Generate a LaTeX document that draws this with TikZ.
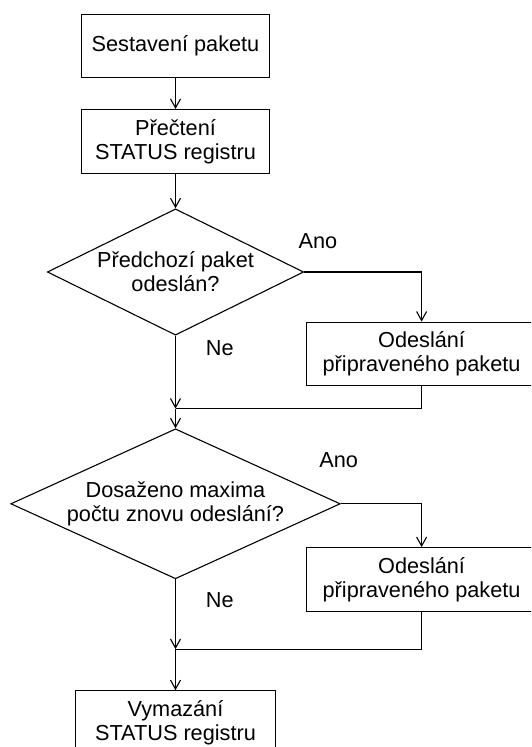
\documentclass[tikz,border=0pt]{standalone}
\usepackage{fontspec}
\setmainfont{Liberation Sans}
\usetikzlibrary{shapes.geometric,arrows.meta}

\begin{document}
\begin{tikzpicture}[
		x={(1pt,0pt)},
		y={(0pt,-1pt)},
		font=\fontsize{21.7}{24}\selectfont,
		line width=1.1pt,
		box/.style={draw,rectangle,align=center,inner sep=0pt,minimum width=188pt,minimum height=63.7pt},
		decision/.style={draw,diamond,align=center,inner sep=0pt},
		arr/.style={-{Straight Barb[length=9pt,width=10pt]}},
	]
		\useasboundingbox (0,0) rectangle (531,747);
		\clip (0,0) rectangle (531,747);
		
		\node[box] (sestaveni) at (175.5,46) {Sestavení paketu};
		\node[box] (cteni) at (175.5,141.4) {Přečtení\\STATUS registru};
		\node[decision,aspect=2.03,minimum width=256.4pt,minimum height=126.3pt] (odeslan) at (175.5,272) {Předchozí paket\\odeslán?};
		\node[box,minimum width=230pt] (odeslani1) at (421.6,354) {Odeslání\\připraveného paketu};
		\coordinate (spoj1) at (175.5,408.6);
		\node[decision,aspect=2.2,minimum width=329.5pt,minimum height=150pt] (maximum) at (175.5,503.8) {Dosaženo maxima\\počtu znovu odeslání?};
		\node[box,minimum width=230pt] (odeslani2) at (421.6,579.5) {Odeslání\\připraveného paketu};
		\coordinate (spoj2) at (175.5,649.1);
		\node[box,minimum width=200.8pt] (vymazani) at (175.5,722.6) {Vymazání\\STATUS registru};
		
		\foreach \n/\x/\y/\t in {ano1/318/241/Ano, ne1/219.8/348.3/Ne, ano2/338.6/460.3/Ano, ne2/219.8/599.8/Ne}{
			\node (\n) at (\x,\y) {\t};
		}
		
		\draw[arr] (sestaveni) -- (cteni);
		\draw[arr] (cteni) -- (odeslan);
		\draw[arr] (odeslan.east) -| (odeslani1.north);
		\draw[arr] (odeslan.south) -- (spoj1);
		\draw (odeslani1.south) |- (spoj1);
		\draw[arr] (spoj1) -- (maximum.north);
		\draw[arr] (maximum.east) -| (odeslani2.north);
		\draw[arr] (maximum.south) -- (spoj2);
		\draw (odeslani2.south) |- (spoj2);
		\draw[arr] (spoj2) -- (vymazani.north);
	\end{tikzpicture}
\end{document}
